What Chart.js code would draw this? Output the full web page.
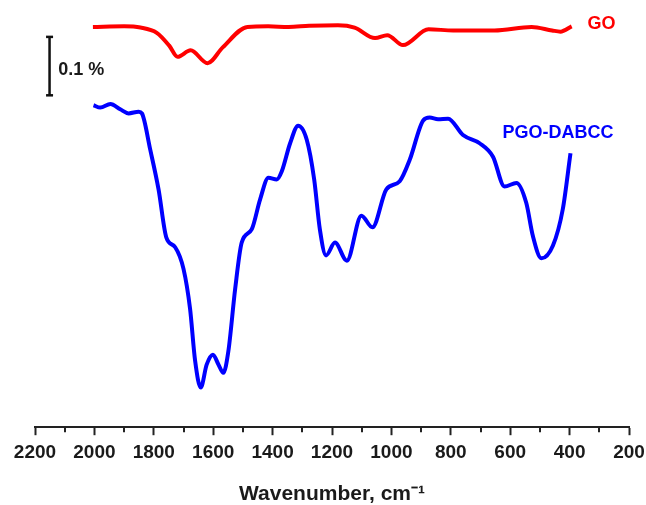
<!DOCTYPE html>
<html>
<head>
<meta charset="utf-8">
<script src="https://cdn.jsdelivr.net/npm/chart.js@4.4.1/dist/chart.umd.min.js"></script>
<style>
  html, body { margin: 0; padding: 0; background: #fff; }
  #wrap { width: 646px; height: 505px; }
</style>
</head>
<body>
<div id="wrap"><canvas id="myChart"></canvas></div>
<script>
// wavenumbers (cm-1) and relative transmittance (%, offset)
const goWave = [2005, 1900, 1845, 1790, 1748, 1720, 1676, 1619, 1568, 1485, 1415, 1346, 1277, 1180, 1124, 1055, 1014, 961, 875, 792, 653, 528, 459, 431, 393];
const goValue = [0.685, 0.686, 0.684, 0.675, 0.653, 0.634, 0.645, 0.623, 0.650, 0.685, 0.686, 0.685, 0.687, 0.688, 0.684, 0.666, 0.671, 0.654, 0.681, 0.679, 0.679, 0.685, 0.679, 0.677, 0.686];

const pgoWave = [2003, 1980, 1946, 1913, 1885, 1851, 1840, 1812, 1784, 1758, 1728, 1700, 1678, 1661, 1642, 1622, 1601, 1582, 1566, 1549, 1526, 1504, 1470, 1442, 1414, 1386, 1369, 1341, 1314, 1285, 1260, 1241, 1220, 1190, 1150, 1101, 1064, 1017, 972, 938, 893, 871, 843, 809, 759, 703, 658, 619, 579, 546, 524, 495, 456, 423, 397];
const pgoValue = [0.551, 0.547, 0.553, 0.544, 0.537, 0.540, 0.537, 0.475, 0.407, 0.325, 0.308, 0.271, 0.203, 0.114, 0.068, 0.107, 0.124, 0.107, 0.093, 0.130, 0.237, 0.316, 0.339, 0.390, 0.427, 0.424, 0.438, 0.486, 0.516, 0.492, 0.424, 0.339, 0.294, 0.316, 0.285, 0.362, 0.342, 0.407, 0.421, 0.458, 0.525, 0.530, 0.527, 0.528, 0.500, 0.486, 0.463, 0.412, 0.418, 0.384, 0.328, 0.289, 0.311, 0.373, 0.469];

// 0.1 % scale bar
const barWave = [2151, 2151];
const barValue = [0.568, 0.668];

const xTicks = [2200, 2000, 1800, 1600, 1400, 1200, 1000, 800, 600, 400, 200];
const minorTicks = [2100, 1900, 1700, 1500, 1300, 1100, 900, 700, 500, 300];

const seriesNames = ['GO', 'PGO-DABCC'];
const seriesColors = ['#ff0000', '#0000ff'];

const FONT = '"Liberation Sans", Arial, Helvetica, sans-serif';

function toPoints(xs, ys) {
    return xs.map((x, i) => ({ x: x, y: ys[i] }));
}

// text labels next to the curves, in data units
const notes = [
    { text: seriesNames[0], x: 293, y: 0.690, color: seriesColors[0], align: 'center' },
    { text: seriesNames[1], x: 439, y: 0.503, color: seriesColors[1], align: 'center' },
    { text: '0.1 %', x: 2122, y: 0.612, color: '#1a1a1a', align: 'left' },
];

const extras = {
    id: 'extras',
    afterDraw(chart) {
        const ctx = chart.ctx;
        const xs = chart.scales.x;
        const ys = chart.scales.y;
        ctx.save();
        // minor ticks
        ctx.strokeStyle = '#222';
        ctx.lineWidth = 2;
        minorTicks.forEach(v => {
            const px = Math.round(xs.getPixelForValue(v));
            ctx.beginPath();
            ctx.moveTo(px, xs.top);
            ctx.lineTo(px, xs.top + 5);
            ctx.stroke();
        });
        // labels
        ctx.font = 'bold 18px ' + FONT;
        ctx.textBaseline = 'middle';
        notes.forEach(n => {
            ctx.fillStyle = n.color;
            ctx.textAlign = n.align;
            ctx.fillText(n.text, xs.getPixelForValue(n.x), ys.getPixelForValue(n.y));
        });
        ctx.restore();
    }
};

const data = {
    datasets: [
        {
            label: seriesNames[0],
            data: toPoints(goWave, goValue),
            borderColor: seriesColors[0],
            borderWidth: 4,
            pointRadius: 0,
            cubicInterpolationMode: 'monotone',
            clip: false,
        },
        {
            label: seriesNames[1],
            data: toPoints(pgoWave, pgoValue),
            borderColor: seriesColors[1],
            borderWidth: 4,
            pointRadius: 0,
            cubicInterpolationMode: 'monotone',
            clip: false,
        },
        {
            label: 'scale',
            data: toPoints(barWave, barValue),
            borderColor: '#111',
            borderWidth: 2.5,
            pointStyle: 'line',
            pointRadius: 3.5,
            pointBorderWidth: 2.5,
            pointBorderColor: '#111',
            clip: false,
        },
    ]
};

const config = {
    type: 'line',
    data: data,
    options: {
        responsive: true,
        maintainAspectRatio: false,
        animation: false,
        layout: {
            padding: { left: 35, right: 17, top: 0, bottom: 0 }
        },
        plugins: {
            legend: { display: false },
            tooltip: { enabled: false },
        },
        scales: {
            x: {
                type: 'linear',
                reverse: true,
                min: 200,
                max: 2200,
                afterBuildTicks: axis => {
                    axis.ticks = xTicks.map(v => ({ value: v }));
                },
                afterFit: axis => {
                    axis.paddingLeft = 0;
                    axis.paddingRight = 0;
                },
                grid: {
                    drawOnChartArea: false,
                    drawTicks: true,
                    tickLength: 8,
                    tickWidth: 2,
                    tickColor: '#222',
                },
                border: { display: true, color: '#222', width: 2 },
                ticks: {
                    color: '#1a1a1a',
                    padding: 6,
                    maxRotation: 0,
                    autoSkip: false,
                    callback: v => String(v),
                    font: { family: FONT, size: 19, weight: 'bold' },
                },
                title: {
                    display: true,
                    text: 'Wavenumber, cm\u207B\u00B9',
                    color: '#1a1a1a',
                    padding: { top: 14, bottom: 0 },
                    font: { family: FONT, size: 21, weight: 'bold', lineHeight: 1.0 },
                },
            },
            y: {
                display: false,
                min: 0,
                max: 0.72,
            },
        },
    },
    plugins: [extras],
};

new Chart(document.getElementById('myChart'), config);
</script>
</body>
</html>
